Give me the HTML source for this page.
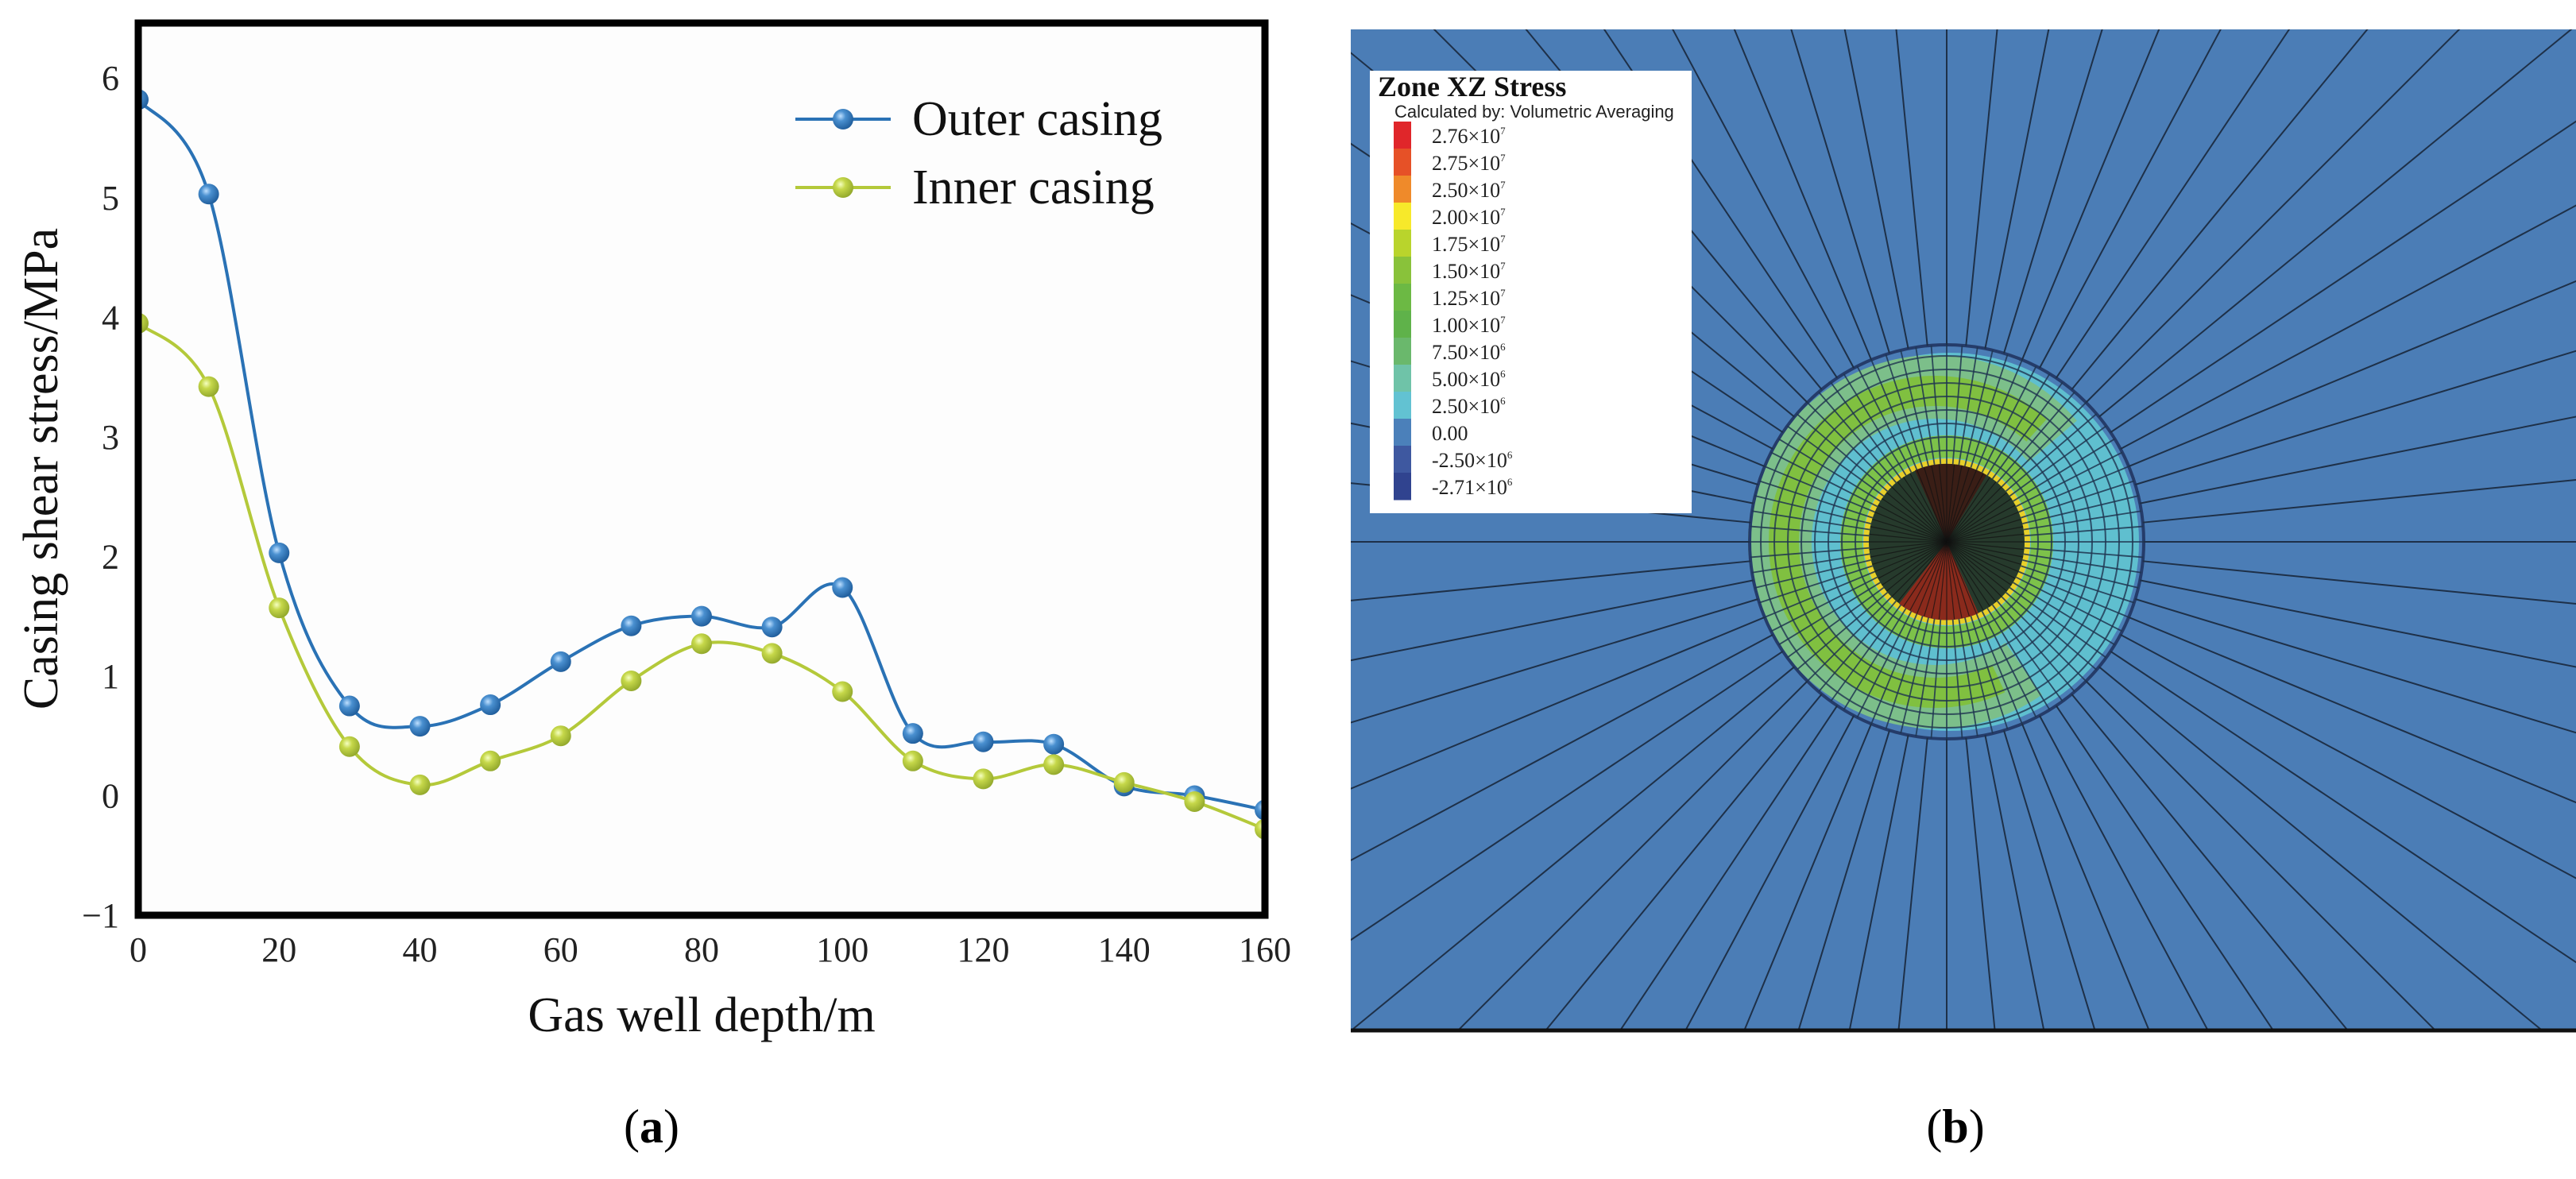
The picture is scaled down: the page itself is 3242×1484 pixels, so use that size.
<!DOCTYPE html>
<html><head><meta charset="utf-8">
<style>
html,body{margin:0;padding:0;background:#fff;overflow:hidden;width:3242px;height:1484px;}
svg{display:block;}
</style></head>
<body>
<svg id="root" width="3242" height="1484" viewBox="0 0 3242 1484" xmlns="http://www.w3.org/2000/svg">
  <defs>
    <radialGradient id="gBlue" cx="0.38" cy="0.35" r="0.7">
      <stop offset="0" stop-color="#bfe0ff"/><stop offset="0.35" stop-color="#4a90d0"/><stop offset="1" stop-color="#1d5a98"/>
    </radialGradient>
    <radialGradient id="gGreen" cx="0.38" cy="0.35" r="0.7">
      <stop offset="0" stop-color="#f5ffc0"/><stop offset="0.35" stop-color="#c6d84a"/><stop offset="1" stop-color="#8fa52a"/>
    </radialGradient>
    <clipPath id="plotClip"><rect x="174" y="29" width="1418" height="1123"/></clipPath>
    <clipPath id="fieldClip"><rect x="1700" y="37" width="1542" height="1260"/></clipPath>
  </defs>
  <g id="chartA"></g>
  <g id="chartB"></g>
</svg>
<script>
const depths = [0,10,20,30,40,50,60,70,80,90,100,110,120,130,140,150,160];
const outerCasing = [5.82,5.03,2.03,0.75,0.58,0.76,1.12,1.42,1.50,1.41,1.74,0.52,0.45,0.43,0.08,0.00,-0.12];
const innerCasing = [3.95,3.42,1.57,0.41,0.09,0.29,0.50,0.96,1.27,1.19,0.87,0.29,0.14,0.26,0.11,-0.05,-0.28];
const xTicks = [0,20,40,60,80,100,120,140,160];
const yTicks = [-1,0,1,2,3,4,5,6];
const legendLabels = ["2.76×10","2.75×10","2.50×10","2.00×10","1.75×10","1.50×10","1.25×10","1.00×10","7.50×10","5.00×10","2.50×10","0.00","-2.50×10","-2.71×10"];
const legendExps = ["7","7","7","7","7","7","7","7","6","6","6","","6","6"];

const NS = "http://www.w3.org/2000/svg";
function mk(tag, attrs, parent){const e=document.createElementNS(NS,tag);for(const k in attrs)e.setAttribute(k,attrs[k]);parent.appendChild(e);return e;}

// ---- Panel A ----
const A = document.getElementById('chartA');
const X0=174,X1=1592,Y0=29,Y1=1152;
const xMin=0,xMax=160,yMin=-1,yMax=6.46;
const sx=v=>X0+(v-xMin)/(xMax-xMin)*(X1-X0);
const sy=v=>Y1-(v-yMin)/(yMax-yMin)*(Y1-Y0);

const bg=mk('rect',{x:X0,y:Y0,width:X1-X0,height:Y1-Y0,fill:'#fdfdfd'},A);



function curve(vals){
  const p=depths.map((d,i)=>[sx(d),sy(vals[i])]);
  let s=`M${p[0][0]},${p[0][1]}`;
  for(let i=0;i<p.length-1;i++){
    const p0=p[i-1]||p[i],p1=p[i],p2=p[i+1],p3=p[i+2]||p2;
    const c1=[p1[0]+(p2[0]-p0[0])/6,p1[1]+(p2[1]-p0[1])/6];
    const c2=[p2[0]-(p3[0]-p1[0])/6,p2[1]-(p3[1]-p1[1])/6];
    s+=` C${c1[0]},${c1[1]} ${c2[0]},${c2[1]} ${p2[0]},${p2[1]}`;
  }
  return s;
}
const seriesG=mk('g',{'clip-path':'url(#plotClip)'},A);
[[outerCasing,'#2a72b5','url(#gBlue)','outer-casing'],[innerCasing,'#b4c93a','url(#gGreen)','inner-casing']].forEach(([vals,col,grad,nm])=>{
  const g=mk('g',{},seriesG);
  
  
  const ln=mk('path',{d:curve(vals),fill:'none',stroke:col,'stroke-width':4},g);
  
  
  depths.forEach((d,i)=>{
    const c=mk('circle',{cx:sx(d),cy:sy(vals[i]),r:13,fill:grad},g);
    
    
  });
});
const frame=mk('rect',{x:X0,y:Y0,width:X1-X0,height:Y1-Y0,fill:'none',stroke:'#000','stroke-width':9},A);



const font='"Liberation Serif", serif';
yTicks.forEach(v=>{
  const t=mk('text',{x:150,y:sy(v)+15,'text-anchor':'end','font-family':font,'font-size':44,fill:'#222'},A);
  t.textContent=v<0?'−'+Math.abs(v):String(v);
  
  
});
xTicks.forEach(v=>{
  const t=mk('text',{x:sx(v),y:1210,'text-anchor':'middle','font-family':font,'font-size':44,fill:'#222'},A);
  t.textContent=String(v);
  
  
});
const xt=mk('text',{x:883,y:1298,'text-anchor':'middle','font-family':font,'font-size':62,fill:'#111'},A);
xt.textContent='Gas well depth/m';


const yt=mk('text',{x:0,y:0,'text-anchor':'middle','font-family':font,'font-size':62,fill:'#111',transform:'translate(72,590) rotate(-90)'},A);
yt.textContent='Casing shear stress/MPa';



[['Outer casing','#2a72b5','url(#gBlue)',150],['Inner casing','#b4c93a','url(#gGreen)',236]].forEach(([lab,col,grad,y])=>{
  const g=mk('g',{},A);
  
  
  mk('line',{x1:1001,x2:1121,y1:y,y2:y,stroke:col,'stroke-width':4},g);
  mk('circle',{cx:1061,cy:y,r:13,fill:grad},g);
  const t=mk('text',{x:1148,y:y+20,'font-family':font,'font-size':62,fill:'#111'},g);
  t.textContent=lab;
});
const la=mk('text',{x:820,y:1438,'text-anchor':'middle','font-family':font,'font-size':60,fill:'#000'},A);
la.innerHTML='(<tspan font-weight="bold">a</tspan>)';



// ---- Panel B ----
const B=document.getElementById('chartB');
const CX=2450,CY=682;
const fg=mk('g',{'clip-path':'url(#fieldClip)'},B);
const fbg=mk('rect',{x:1700,y:37,width:1542,height:1260,fill:'#4b7db6'},fg);


// contour zones
mk('circle',{cx:CX+4,cy:CY,r:238,fill:'#5fbfcf'},fg);
mk('circle',{cx:CX-15,cy:CY,r:195,fill:'none',stroke:'#7cbf8a','stroke-width':80,'stroke-dasharray':'900 400','transform':`rotate(55 ${CX-15} ${CY})`},fg);
mk('circle',{cx:CX-15,cy:CY,r:190,fill:'none',stroke:'#80c040','stroke-width':38,'stroke-dasharray':'820 400','transform':`rotate(65 ${CX-15} ${CY})`},fg);
mk('circle',{cx:CX,cy:CY,r:120,fill:'none',stroke:'#7dc24a','stroke-width':28},fg);
mk('circle',{cx:CX,cy:CY,r:101,fill:'none',stroke:'#e8d02a','stroke-width':8},fg);
const core=mk('circle',{cx:CX,cy:CY,r:98,fill:'#263a2c'},fg);


mk('path',{d:`M${CX},${CY} L${CX-60},${CY+78} A98,98 0 0 0 ${CX+40},${CY+90} Z`,fill:'#8a2a1c'},fg);
mk('path',{d:`M${CX},${CY} L${CX-40},${CY-90} A98,98 0 0 1 ${CX+50},${CY-84} Z`,fill:'#3a1e16'},fg);
// mesh
for(let r=115;r<=246;r+=17){mk('circle',{cx:CX,cy:CY,r:r,fill:'none',stroke:'#1f3550','stroke-width':2,opacity:0.8},fg);}
mk('circle',{cx:CX,cy:CY,r:248,fill:'none',stroke:'#253c6a','stroke-width':4},fg);
for(let i=0;i<80;i++){
  const a=i/80*2*Math.PI;
  mk('line',{x1:CX+98*Math.cos(a),y1:CY+98*Math.sin(a),x2:CX+248*Math.cos(a),y2:CY+248*Math.sin(a),stroke:'#1f3550','stroke-width':1.8,opacity:0.85},fg);
}
for(let i=0;i<64;i++){
  const a=i/64*2*Math.PI;
  mk('line',{x1:CX+248*Math.cos(a),y1:CY+248*Math.sin(a),x2:CX+2000*Math.cos(a),y2:CY+2000*Math.sin(a),stroke:'#1e3048','stroke-width':2},fg);
}
for(let i=0;i<64;i++){
  const a=i/64*2*Math.PI;
  mk('line',{x1:CX,y1:CY,x2:CX+98*Math.cos(a),y2:CY+98*Math.sin(a),stroke:'#111','stroke-width':1.2,opacity:0.7},fg);
}
const base=mk('line',{x1:1700,x2:3242,y1:1297,y2:1297,stroke:'#111','stroke-width':5},B);



// legend
const lg=mk('g',{},B);


mk('rect',{x:1724,y:89,width:405,height:557,fill:'#fff'},lg);
const tt=mk('text',{x:1734,y:121,'font-family':font,'font-size':36,'font-weight':'bold',fill:'#111'},lg);
tt.textContent='Zone XZ Stress';
const st=mk('text',{x:1755,y:148,'font-family':'"Liberation Sans", sans-serif','font-size':22,fill:'#222'},lg);
st.textContent='Calculated by: Volumetric Averaging';
const swatchColors=['#e0262a','#e65127','#ef8a2a','#f7e92a','#b9d42c','#89c23a','#6cb944','#5fb24a','#6ab86c','#6fc3a8','#62c2d2','#4b80ba','#3e58a0','#30438f'];
swatchColors.forEach((c,i)=>{
  const r=mk('rect',{x:1754,y:153+i*34,width:22,height:34.5,fill:c},lg);
  
  
});
legendLabels.forEach((lab,i)=>{
  const t=mk('text',{x:1802,y:180+i*34,'font-family':font,'font-size':26,fill:'#222'},lg);
  t.textContent=lab;
  if(legendExps[i]){const s=mk('tspan',{dy:-11,'font-size':13},t);s.textContent=legendExps[i];}
  
  
});
const lb=mk('text',{x:2461,y:1438,'text-anchor':'middle','font-family':font,'font-size':60,fill:'#000'},B);
lb.innerHTML='(<tspan font-weight="bold">b</tspan>)';


</script>
</body></html>
